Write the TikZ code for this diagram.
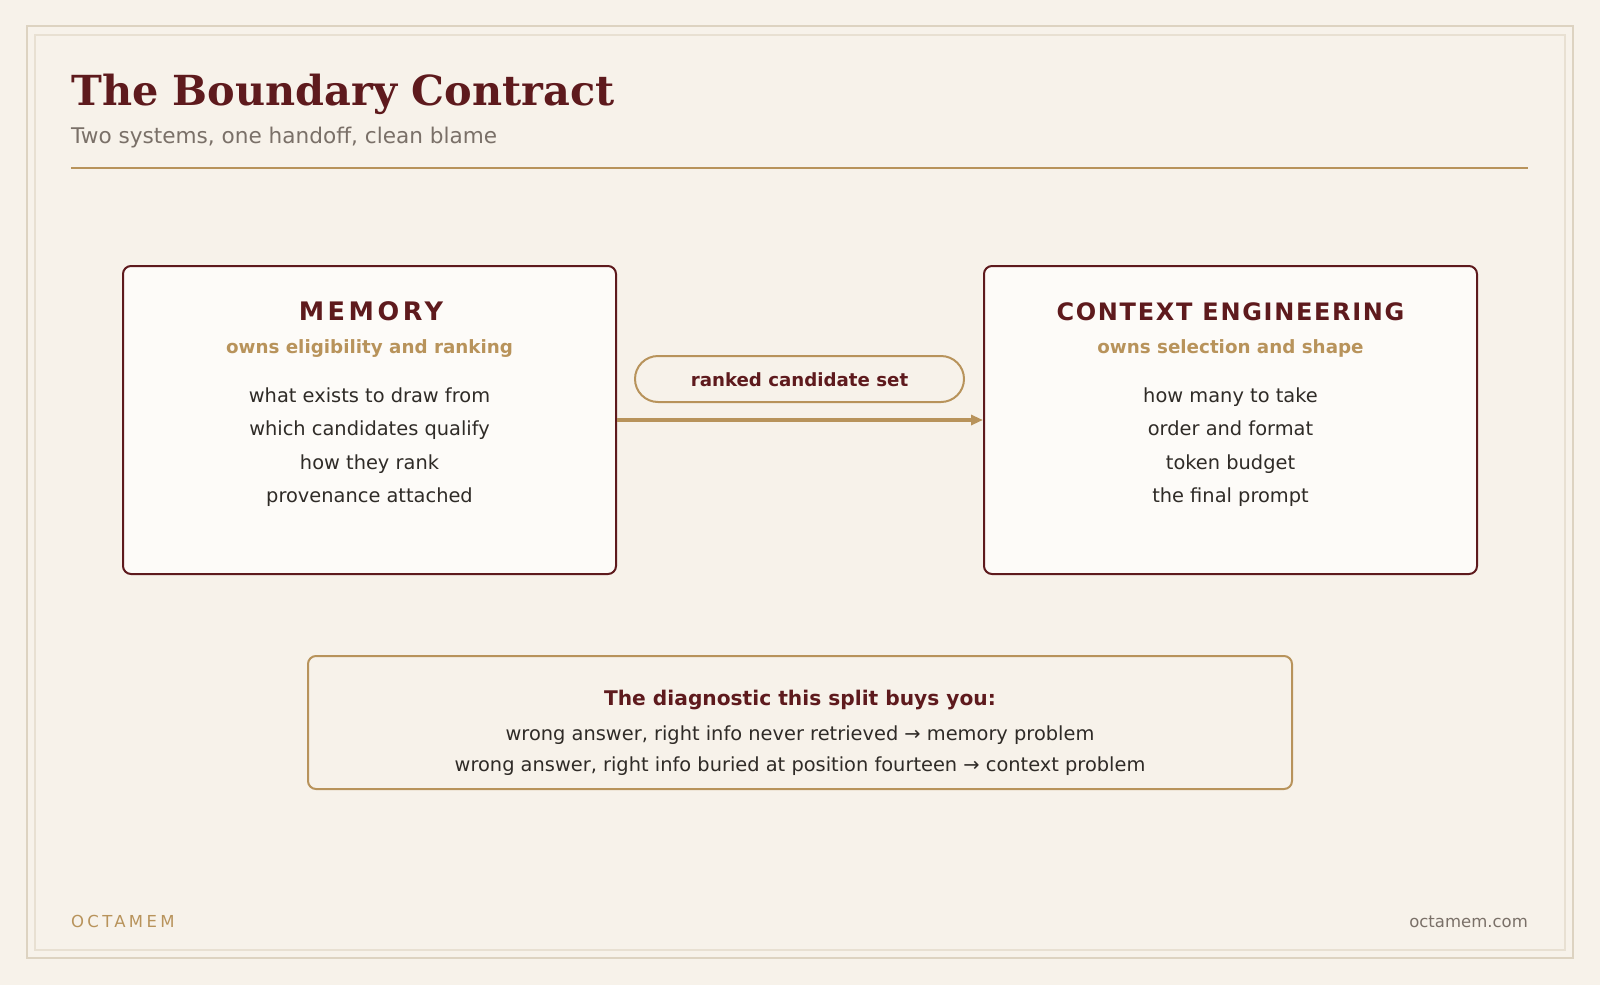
\documentclass[tikz,border=0pt]{standalone}
\usepackage{fontspec}
\setmainfont{DejaVu Sans}
\newfontfamily\titlefont{DejaVu Serif}
\usetikzlibrary{arrows.meta}

\definecolor{pagebg}{HTML}{F7F2EA}
\definecolor{framedark}{HTML}{DDD3C1}
\definecolor{framelight}{HTML}{E8E0D2}
\definecolor{panelbg}{HTML}{FDFBF8}
\definecolor{maroon}{HTML}{5E1A1D}
\definecolor{tan}{HTML}{B8935B}
\definecolor{greytext}{HTML}{7A7068}
\definecolor{bodytext}{HTML}{2F2B27}

\tikzset{
  panel/.style={draw=maroon, line width=2pt, fill=panelbg, rounded corners=8pt,
    minimum width=493pt, minimum height=308pt, inner sep=0pt},
  paneltitle/.style={anchor=base, text=maroon},
  owner/.style={anchor=base, text=tan, font=\fontsize{18.3}{22}\selectfont\bfseries},
  duty/.style={anchor=base, text=bodytext, font=\fontsize{19.4}{23}\selectfont},
  diagline/.style={anchor=base, text=bodytext, font=\fontsize{19.4}{23}\selectfont}
}

\begin{document}
\begin{tikzpicture}[x=1pt, y=-1pt]
      \useasboundingbox (0,0) rectangle (1600,985);
      \fill[pagebg] (0,0) rectangle (1600,985);
      % frame
      \draw[framedark, line width=2pt] (27,26) rectangle (1573,958);
      \draw[framelight, line width=1.5pt] (35,35) rectangle (1565,950);
      % heading
      \node[anchor=base west, inner sep=0pt, text=maroon,
        font=\titlefont\fontsize{41.4}{48}\selectfont\bfseries] (title) at (71,105) {The Boundary Contract};
      \node[anchor=base west, inner sep=0pt, text=greytext,
        font=\fontsize{21.6}{25}\selectfont] (subtitle) at (71,143) {Two systems, one handoff, clean blame};
      \coordinate (ruleL) at (71,168);
      \coordinate (ruleR) at (1528,168);
      \draw[tan, line width=2pt] (ruleL) -- (ruleR);
      % the two systems
      \node[panel] (memory) at (369.5,420) {};
      \node[panel] (context) at (1230.5,420) {};
      \node[paneltitle, font=\fontsize{25.5}{29}\selectfont\bfseries\addfontfeatures{LetterSpace=14}] at (371,320) {MEMORY};
      \node[owner] at (369.5,353) {owns eligibility and ranking};
      \node[duty] at (369.5,402) {what exists to draw from};
      \node[duty] at (369.5,435) {which candidates qualify};
      \node[duty] at (369.5,469) {how they rank};
      \node[duty] at (369.5,502) {provenance attached};
      \node[paneltitle, font=\fontsize{24}{28}\selectfont\bfseries\addfontfeatures{LetterSpace=7}] at (1230.5,320) {CONTEXT ENGINEERING};
      \node[owner] at (1230.5,353) {owns selection and shape};
      \node[duty] at (1230.5,402) {how many to take};
      \node[duty] at (1230.5,435) {order and format};
      \node[duty] at (1230.5,469) {token budget};
      \node[duty] at (1230.5,502) {the final prompt};
      % handoff
      \node[draw=tan, line width=2pt, fill=pagebg, rounded corners=23pt, minimum width=329pt,
        minimum height=46pt, inner sep=0pt] (handoff) at (799.5,379) {};
      \node[anchor=base, text=maroon, font=\fontsize{18.2}{22}\selectfont\bfseries] at (799.5,386.5) {ranked candidate set};
      \draw[tan, line width=4.5pt, -{Triangle[length=12pt, width=10pt]}] (memory.east) -- (context.west);
      % diagnostic
      \node[draw=tan, line width=2pt, fill=pagebg, rounded corners=8pt, minimum width=984pt,
        minimum height=133pt, inner sep=0pt] (diag) at (800,722.5) {};
      \node[anchor=base, text=maroon, font=\fontsize{20.2}{24}\selectfont\bfseries] at (800,705) {The diagnostic this split buys you:};
      \node[diagline] at (800,740) {wrong answer, right info never retrieved → memory problem};
      \node[diagline] at (800,771) {wrong answer, right info buried at position fourteen → context problem};
      % footer
      \node[anchor=base west, inner sep=0pt, text=tan,
        font=\fontsize{16.5}{20}\selectfont\addfontfeatures{LetterSpace=20}] (brand) at (71,927) {OCTAMEM};
      \node[anchor=base east, inner sep=0pt, text=greytext,
        font=\fontsize{16.5}{20}\selectfont] (site) at (1528,927) {octamem.com};
    \end{tikzpicture}
\end{document}
